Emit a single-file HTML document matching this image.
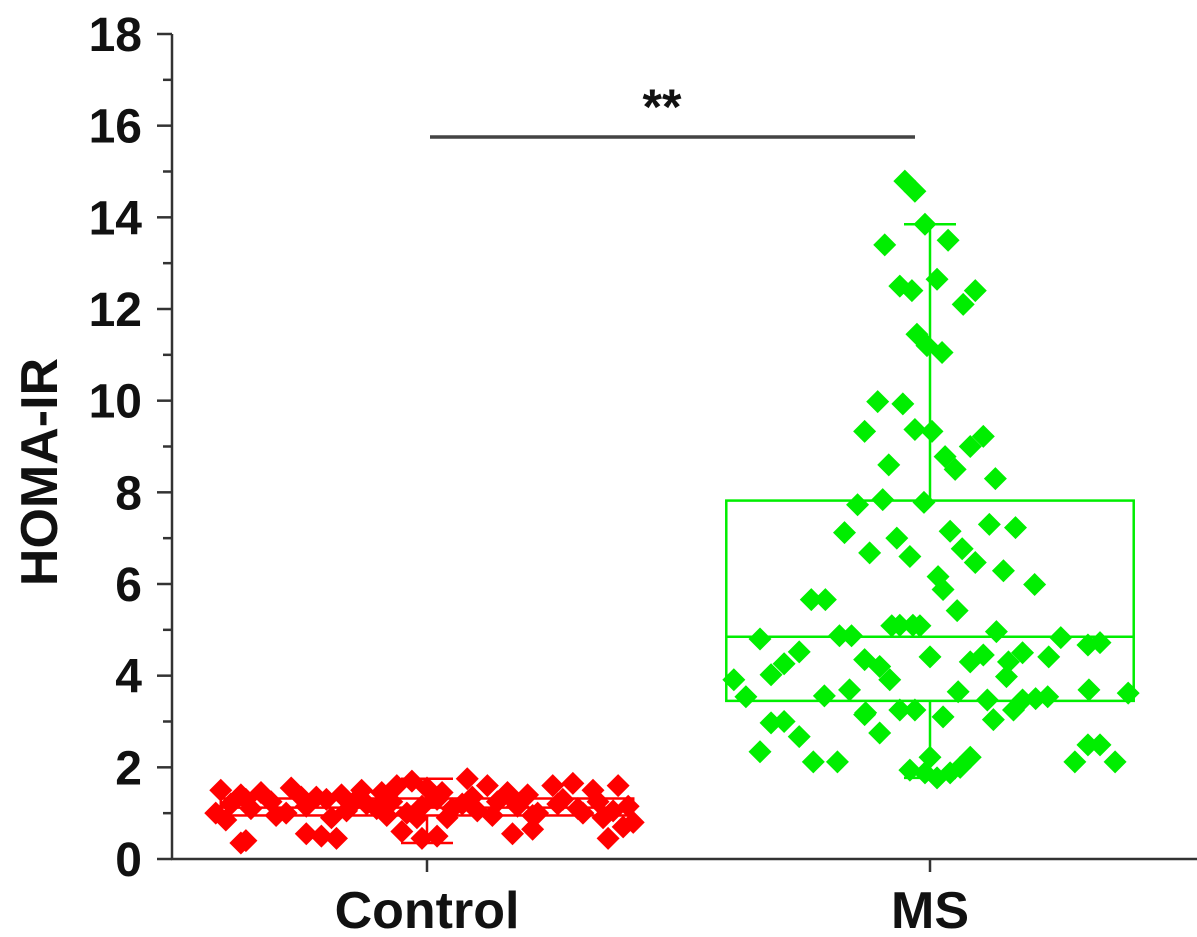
<!DOCTYPE html>
<html><head><meta charset="utf-8"><style>
html,body{margin:0;padding:0;background:#fff;}
svg{display:block;}
text{font-family:"Liberation Sans",Arial,sans-serif;font-weight:bold;fill:#111;}
</style></head><body>
<svg id="chart" width="1197" height="937" viewBox="0 0 1197 937">
<g id="axes"></g>
<g id="boxes"></g>
<g id="points"></g>
<g id="annot"></g>
</svg>
<script>
const categories = ["Control","MS"];
const yTicks = [0,2,4,6,8,10,12,14,16,18];
const controlJitter = [-0.41,-0.37,-0.33,-0.27,-0.22,-0.17,-0.13,-0.09,-0.06,-0.03,0.0,0.03,0.08,0.12,0.16,0.2,0.25,0.29,0.33,0.38,
 -0.42,-0.39,-0.35,-0.31,-0.28,-0.24,-0.2,-0.16,-0.12,-0.1,-0.07,-0.04,-0.01,0.02,0.05,0.07,0.1,0.14,0.18,0.22,0.26,0.3,0.34,0.37,0.4,
 -0.4,-0.36,-0.3,-0.25,-0.19,-0.14,-0.08,-0.02,0.04,0.09,0.13,0.17,0.21,0.27,0.31,0.35,0.41,
 -0.37,-0.36,-0.24,-0.21,-0.18,-0.05,-0.01,0.02,0.17,0.21,0.36,0.39];
const controlValues = [1.5,1.4,1.45,1.55,1.35,1.4,1.5,1.45,1.6,1.7,1.55,1.45,1.75,1.6,1.45,1.4,1.6,1.65,1.5,1.6,
 1.0,1.2,1.1,1.25,1.0,1.15,1.3,1.05,1.2,1.1,1.25,1.0,1.15,1.3,1.1,1.2,1.05,1.25,1.15,1.0,1.2,1.1,1.25,1.05,1.15,
 0.85,1.3,0.95,1.35,0.9,1.3,0.95,0.9,0.9,1.35,0.95,1.3,0.95,1.3,1.0,0.9,0.8,
 0.35,0.4,0.55,0.5,0.45,0.6,0.45,0.5,0.55,0.65,0.45,0.7];
const msJitter = [-0.05,-0.03,-0.01,-0.09,0.036,-0.06,-0.036,0.014,0.09,0.066,-0.026,-0.006,0.024,-0.104,-0.054,-0.13,-0.03,0.004,0.106,0.08,0.03,0.05,-0.082,0.13,-0.144,-0.094,-0.012,
 -0.17,-0.066,-0.12,-0.04,0.04,0.064,0.09,0.118,0.17,0.146,0.016,0.026,0.054,0.208,-0.236,-0.208,-0.076,-0.06,-0.034,-0.02,-0.338,-0.18,-0.156,0.132,0.26,0.314,0.338,
 -0.26,-0.29,-0.316,-0.13,-0.1,-0.08,0,0.08,0.106,0.156,0.184,0.236,0.152,-0.39,-0.366,-0.21,-0.16,0.056,0.114,0.184,0.21,0.234,0.316,0.394,
 -0.128,-0.06,-0.03,0.026,0.126,0.166,-0.316,-0.29,-0.26,-0.1,-0.13,-0.338,-0.232,-0.184,-0.04,-0.01,0.014,0.04,0.06,0.08,0.288,0.314,0.338,0.368,0];
const msValues = [14.79,14.57,13.85,13.4,13.5,12.5,12.4,12.65,12.4,12.1,11.45,11.2,11.05,9.98,9.93,9.33,9.37,9.33,9.22,9.0,8.78,8.5,8.6,8.3,7.73,7.84,7.78,
 7.12,7.0,6.68,6.6,7.15,6.77,6.47,7.3,7.23,6.29,6.16,5.88,5.42,5.99,5.66,5.66,5.09,5.1,5.1,5.09,4.8,4.87,4.87,4.96,4.83,4.67,4.72,
 4.52,4.26,4.02,4.35,4.2,3.91,4.41,4.3,4.45,4.3,4.5,4.41,3.98,3.91,3.54,3.56,3.69,3.65,3.47,3.47,3.5,3.54,3.69,3.62,
 3.19,3.25,3.25,3.1,3.04,3.25,2.97,3.0,2.67,2.75,3.15,2.34,2.12,2.12,1.94,1.88,1.77,1.88,2.0,2.22,2.12,2.49,2.49,2.12,2.22];
const boxQ1 = [0.95,3.45];
const boxMedian = [1.12,4.85];
const boxQ3 = [1.32,7.82];
const whiskerLow = [0.35,1.77];
const whiskerHigh = [1.75,13.85];

const NS="http://www.w3.org/2000/svg";
const yScale = v => 859 - v*(825/18);
const xScale = c => 427 + c*503;
function mk(tag, attrs, parent){const e=document.createElementNS(NS,tag);for(const k in attrs)e.setAttribute(k,attrs[k]);parent.appendChild(e);return e;}
const axes=document.getElementById('axes'), boxes=document.getElementById('boxes'), pts=document.getElementById('points'), annot=document.getElementById('annot');
const AX="#333";
let yl=mk('line',{x1:172,y1:34,x2:172,y2:860,stroke:AX,'stroke-width':2.5},axes);


let xl=mk('line',{x1:171,y1:859,x2:1197,y2:859,stroke:AX,'stroke-width':2.5},axes);


yTicks.forEach((t,i)=>{
  const y=yScale(t);
  let tk=mk('line',{x1:157,y1:y,x2:172,y2:y,stroke:AX,'stroke-width':2.5},axes);
  
  
  if(i<yTicks.length-1){
    const ym=yScale(t+1);
    let mt=mk('line',{x1:163,y1:ym,x2:172,y2:ym,stroke:AX,'stroke-width':2.5},axes);
    
    
  }
  let lb=mk('text',{x:142,y:y+17,'text-anchor':'end','font-size':48},axes);
  lb.textContent=t;
  
  
});
categories.forEach((c,i)=>{
  const x=xScale(i);
  let tk=mk('line',{x1:x,y1:859,x2:x,y2:872,stroke:AX,'stroke-width':2.5},axes);
  
  
  let lb=mk('text',{x:x,y:928,'text-anchor':'middle','font-size':52},axes);
  lb.textContent=c;
  
  
});
let yt=mk('text',{x:0,y:0,'text-anchor':'middle','font-size':52,transform:'translate(57,472) rotate(-90)'},axes);
yt.textContent="HOMA-IR";



const colors=["#ff0000","#00ee00"];
const halfW=[0.41,0.405];
categories.forEach((c,i)=>{
  const cx=xScale(i), hw=halfW[i]*503, col=colors[i];
  const g=mk('g',{},boxes);
  
  
  mk('rect',{x:cx-hw,y:yScale(boxQ3[i]),width:2*hw,height:yScale(boxQ1[i])-yScale(boxQ3[i]),fill:'none',stroke:col,'stroke-width':2.5},g);
  mk('line',{x1:cx-hw,x2:cx+hw,y1:yScale(boxMedian[i]),y2:yScale(boxMedian[i]),stroke:col,'stroke-width':2.5},g);
  mk('line',{x1:cx,x2:cx,y1:yScale(boxQ3[i]),y2:yScale(whiskerHigh[i]),stroke:col,'stroke-width':2.5},g);
  mk('line',{x1:cx,x2:cx,y1:yScale(boxQ1[i]),y2:yScale(whiskerLow[i]),stroke:col,'stroke-width':2.5},g);
  mk('line',{x1:cx-26,x2:cx+26,y1:yScale(whiskerHigh[i]),y2:yScale(whiskerHigh[i]),stroke:col,'stroke-width':2.5},g);
  mk('line',{x1:cx-26,x2:cx+26,y1:yScale(whiskerLow[i]),y2:yScale(whiskerLow[i]),stroke:col,'stroke-width':2.5},g);
});
function diamonds(jit,vals,ci,name){
  jit.forEach((j,k)=>{
    const x=xScale(ci+j), y=yScale(vals[k]), r=11.5;
    const p=mk('polygon',{points:`${x},${y-r} ${x+r},${y} ${x},${y+r} ${x-r},${y}`,fill:colors[ci]},pts);
    
    
  });
}
diamonds(controlJitter,controlValues,0,'control-point');
diamonds(msJitter,msValues,1,'ms-point');

let sl=mk('line',{x1:430,y1:137,x2:915,y2:137,stroke:'#444','stroke-width':3.5},annot);


let st=mk('text',{x:662,y:124,'text-anchor':'middle','font-size':50},annot);
st.textContent="**";


</script>
</body></html>
